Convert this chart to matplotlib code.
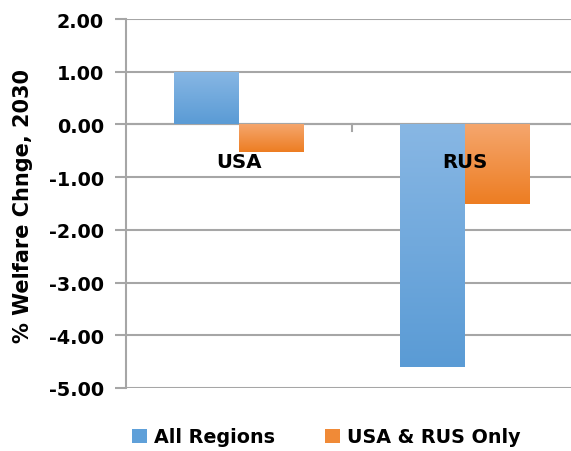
import matplotlib
matplotlib.use("Agg")
import matplotlib.pyplot as plt
import numpy as np
from matplotlib.colors import LinearSegmentedColormap
from matplotlib.patches import Patch

categories = ["USA", "RUS"]
series_names = ["All Regions", "USA & RUS Only"]
all_regions = [1.00, -4.60]
usa_rus_only = [-0.53, -1.50]
yticks = [2.0, 1.0, 0.0, -1.0, -2.0, -3.0, -4.0, -5.0]

plt.rcParams['font.family'] = ['DejaVu Sans']

fig = plt.figure(figsize=(5.71, 4.52), dpi=100)
W, H = 571, 452
left, right, top, bottom = 126, 578, 20, 389
ax = fig.add_axes([left / W, 1 - bottom / H, (right - left) / W, (bottom - top) / H])

grid_c = '#a6a6a6'
FS = 13.8
ax.set_ylim(-5, 2)
ax.set_xlim(-0.5, 1.5)
ax.set_yticks(yticks)
ax.set_yticklabels([f"{v:.2f}" for v in yticks], fontsize=FS, fontweight='bold')
ax.yaxis.grid(True, color=grid_c, linewidth=1.5)
ax.set_axisbelow(True)
for s in ['top', 'right', 'bottom']:
    ax.spines[s].set_visible(False)
ax.spines['left'].set_color(grid_c)
ax.spines['left'].set_linewidth(1.5)
ax.tick_params(axis='y', length=8, width=1.5, color=grid_c, pad=8)
ax.set_xticks([])
ax.axhline(0, color=grid_c, linewidth=1.5, zorder=1)
ax.plot([0.5, 0.5], [0, -0.12], color=grid_c, linewidth=1.5, zorder=1)

bw = 0.2875
x = np.arange(len(categories))
blue_cmap = LinearSegmentedColormap.from_list('b', ['#5a9bd5', '#88b7e4'])
orange_cmap = LinearSegmentedColormap.from_list('o', ['#ed7d22', '#f5a66d'])
grad = np.linspace(0, 1, 256).reshape(-1, 1)

for vals, off, cmap in [(all_regions, -bw / 2, blue_cmap), (usa_rus_only, bw / 2, orange_cmap)]:
    bars = ax.bar(x + off, vals, width=bw, color='none', edgecolor='none', zorder=2)
    for b in bars:
        x0 = b.get_x()
        y0, y1 = sorted([b.get_y(), b.get_y() + b.get_height()])
        im = ax.imshow(grad, cmap=cmap, origin='lower', aspect='auto',
                       extent=[x0, x0 + b.get_width(), y0, y1], zorder=2)
        im.set_clip_path(b)

ax.set_xlim(-0.5, 1.5)
ax.set_ylim(-5, 2)

for xi, c in zip(x, categories):
    ax.text(xi, -0.7, c, ha='center', va='center', fontsize=FS + 0.4, fontweight='bold', zorder=3)

fig.text(23 / W, 1 - 206 / H, "% Welfare Chnge, 2030", rotation=90, ha='center', va='center',
         fontsize=15, fontweight='bold')

handles = [Patch(facecolor='#5fa0d9', label=series_names[0]),
           Patch(facecolor='#f08a37', label=series_names[1])]
fig.legend(handles=handles, loc='center', bbox_to_anchor=(326 / W, 1 - 438 / H), ncol=2,
           frameon=False, prop={'weight': 'bold', 'size': FS}, handlelength=0.8,
           handleheight=0.8, handletextpad=0.35, columnspacing=2.6)

fig.savefig('out.png', dpi=100)
